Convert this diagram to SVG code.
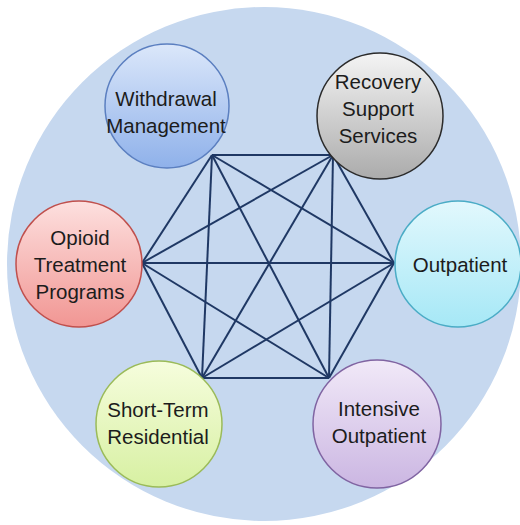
<svg xmlns="http://www.w3.org/2000/svg" width="520" height="525" viewBox="0 0 520 525">
<defs>
<linearGradient id="gBlue" x1="0" y1="0" x2="0" y2="1"><stop offset="0" stop-color="#dbe7fa"/><stop offset="1" stop-color="#8fb1ea"/></linearGradient>
<linearGradient id="gGray" x1="0" y1="0" x2="0" y2="1"><stop offset="0" stop-color="#f4f4f4"/><stop offset="1" stop-color="#ababab"/></linearGradient>
<linearGradient id="gRed" x1="0" y1="0" x2="0" y2="1"><stop offset="0" stop-color="#fde0df"/><stop offset="1" stop-color="#f19693"/></linearGradient>
<linearGradient id="gCyan" x1="0" y1="0" x2="0" y2="1"><stop offset="0" stop-color="#e2f8fd"/><stop offset="1" stop-color="#a6e8f6"/></linearGradient>
<linearGradient id="gGreen" x1="0" y1="0" x2="0" y2="1"><stop offset="0" stop-color="#f6fddd"/><stop offset="1" stop-color="#d7f0a2"/></linearGradient>
<linearGradient id="gPurple" x1="0" y1="0" x2="0" y2="1"><stop offset="0" stop-color="#f1e9f8"/><stop offset="1" stop-color="#cbb6e2"/></linearGradient>
</defs>
<style>
.lbl{font-family:"Liberation Sans",Arial,sans-serif;font-size:20.5px;fill:#1c1c1c;text-anchor:middle}
.edge{stroke:#1f3864;stroke-width:2;fill:none}
.node{stroke-width:1.5}
</style>
<rect width="520" height="525" fill="#ffffff"/>
<circle cx="264" cy="264" r="257" fill="#c6d8ef"/>
<g id="connectors">
<line class="edge" x1="212" y1="155" x2="333" y2="155"/>
<line class="edge" x1="212" y1="155" x2="142" y2="263"/>
<line class="edge" x1="212" y1="155" x2="394" y2="263"/>
<line class="edge" x1="212" y1="155" x2="202" y2="378"/>
<line class="edge" x1="212" y1="155" x2="329" y2="378"/>
<line class="edge" x1="333" y1="155" x2="142" y2="263"/>
<line class="edge" x1="333" y1="155" x2="394" y2="263"/>
<line class="edge" x1="333" y1="155" x2="202" y2="378"/>
<line class="edge" x1="333" y1="155" x2="329" y2="378"/>
<line class="edge" x1="142" y1="263" x2="394" y2="263"/>
<line class="edge" x1="142" y1="263" x2="202" y2="378"/>
<line class="edge" x1="142" y1="263" x2="329" y2="378"/>
<line class="edge" x1="394" y1="263" x2="202" y2="378"/>
<line class="edge" x1="394" y1="263" x2="329" y2="378"/>
<line class="edge" x1="202" y1="378" x2="329" y2="378"/>
</g>
<g id="withdrawal">
<circle class="node" cx="167" cy="106" r="62" fill="url(#gBlue)" stroke="#5b7fc0"/>
<text class="lbl" x="166" y="106">Withdrawal</text>
<text class="lbl" x="166" y="133">Management</text>
</g>
<g id="recovery">
<circle class="node" cx="380" cy="116" r="63" fill="url(#gGray)" stroke="#2b2b2b"/>
<text class="lbl" x="378" y="89">Recovery</text>
<text class="lbl" x="378" y="116">Support</text>
<text class="lbl" x="378" y="143">Services</text>
</g>
<g id="opioid">
<circle class="node" cx="79" cy="264" r="63" fill="url(#gRed)" stroke="#c0504d"/>
<text class="lbl" x="80" y="245">Opioid</text>
<text class="lbl" x="80" y="272">Treatment</text>
<text class="lbl" x="80" y="299">Programs</text>
</g>
<g id="outpatient">
<circle class="node" cx="458" cy="264" r="63" fill="url(#gCyan)" stroke="#4bacc6"/>
<text class="lbl" x="460" y="272">Outpatient</text>
</g>
<g id="shortterm">
<circle class="node" cx="159" cy="424" r="63" fill="url(#gGreen)" stroke="#9bbb59"/>
<text class="lbl" x="158" y="417">Short-Term</text>
<text class="lbl" x="158" y="444">Residential</text>
</g>
<g id="intensive">
<circle class="node" cx="377" cy="424" r="64" fill="url(#gPurple)" stroke="#8064a2"/>
<text class="lbl" x="379" y="416">Intensive</text>
<text class="lbl" x="379" y="443">Outpatient</text>
</g>
</svg>
